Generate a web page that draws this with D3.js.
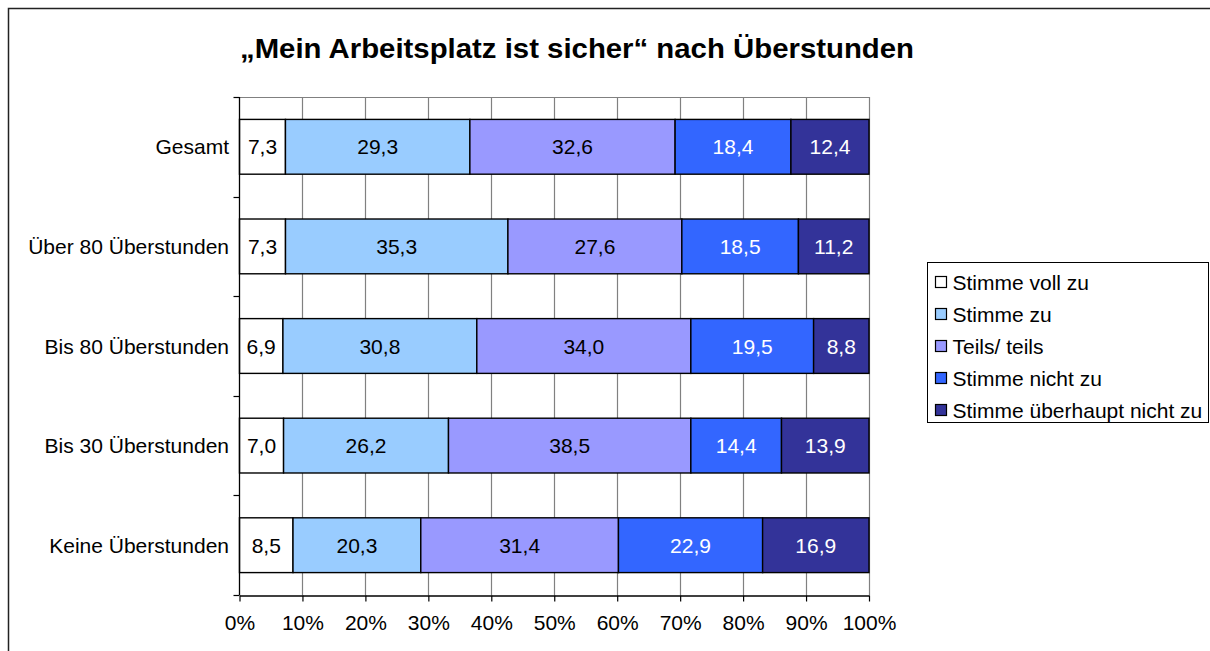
<!DOCTYPE html>
<html>
<head>
<meta charset="utf-8">
<script src="https://cdn.jsdelivr.net/npm/d3@7"></script>
<style>
  body { margin: 0; background: #fff; }
  svg { display: block; font-family: "Liberation Sans", Arial, sans-serif; }
</style>
</head>
<body>
<div id="chart"></div>
<script>
/* Data */

var categories = ["Gesamt", "Über 80 Überstunden", "Bis 80 Überstunden", "Bis 30 Überstunden", "Keine Überstunden"];
var seriesNames = ["Stimme voll zu", "Stimme zu", "Teils/ teils", "Stimme nicht zu", "Stimme überhaupt nicht zu"];
var seriesColors = ["#ffffff", "#99ccff", "#9999ff", "#3366ff", "#333399"];
var labelColors = ["#000", "#000", "#000", "#fff", "#fff"];

var stimmeVollZu = [7.3, 7.3, 6.9, 7.0, 8.5];
var stimmeZu = [29.3, 35.3, 30.8, 26.2, 20.3];
var teilsTeils = [32.6, 27.6, 34.0, 38.5, 31.4];
var stimmeNichtZu = [18.4, 18.5, 19.5, 14.4, 22.9];
var ueberhauptNicht = [12.4, 11.2, 8.8, 13.9, 16.9];

var xTicks = [0, 0.1, 0.2, 0.3, 0.4, 0.5, 0.6, 0.7, 0.8, 0.9, 1];

var title = "„Mein Arbeitsplatz ist sicher“ nach Überstunden";

/* Build rows for d3.stack */
var allSeries = [stimmeVollZu, stimmeZu, teilsTeils, stimmeNichtZu, ueberhauptNicht];
var rows = categories.map(function(c, i) {
	var r = { cat: c };
	seriesNames.forEach(function(s, j) { r[s] = allSeries[j][i]; });
	return r;
});

var width = 1210,
    height = 651;
var plot = { left: 239.5, right: 869, top: 97, bottom: 595 };
var fs = "21px";

var svg = d3.select("#chart").append("svg")
	.attr("width", width)
	.attr("height", height);

// outer frame (only left and top visible in the picture)
svg.append("rect")
	.attr("x", 8.5).attr("y", 8.5)
	.attr("width", 1400).attr("height", 1000)
	.attr("fill", "none").attr("stroke", "#222").attr("stroke-width", 1.5);

svg.append("text")
	.attr("x", 240).attr("y", 58)
	.attr("textLength", 674).attr("lengthAdjust", "spacingAndGlyphs")
	.style("font-size", "27px").style("font-weight", "bold")
	.text(title);

var x = d3.scaleLinear().domain([0, 1]).range([plot.left, plot.right]);
var y = d3.scaleBand().domain(categories)
	.range([plot.top, plot.bottom])
	.paddingInner(0.45).paddingOuter(0.225);

var stack = d3.stack().keys(seriesNames).offset(d3.stackOffsetExpand);
var layers = stack(rows);

/* grid */
svg.append("g").selectAll("line")
	.data(xTicks.slice(1))
	.enter().append("line")
	.attr("x1", function(d) { return Math.round(x(d)) + 0.5; })
	.attr("x2", function(d) { return Math.round(x(d)) + 0.5; })
	.attr("y1", plot.top).attr("y2", plot.bottom)
	.attr("stroke", "#808080").attr("stroke-width", 1.2);
svg.append("line")
	.attr("x1", plot.left).attr("x2", plot.right)
	.attr("y1", plot.top + 0.5).attr("y2", plot.top + 0.5)
	.attr("stroke", "#808080").attr("stroke-width", 1.2);

/* bars */
var groups = svg.append("g").selectAll("g")
	.data(layers)
	.enter().append("g")
	.attr("fill", function(d, i) { return seriesColors[i]; });

groups.selectAll("rect")
	.data(function(d) { return d; })
	.enter().append("rect")
	.attr("x", function(d) { return x(d[0]); })
	.attr("width", function(d) { return x(d[1]) - x(d[0]); })
	.attr("y", function(d) { return y(d.data.cat); })
	.attr("height", y.bandwidth())
	.attr("stroke", "#000").attr("stroke-width", 1.4);

/* value labels */
layers.forEach(function(layer, i) {
	svg.append("g").selectAll("text")
		.data(layer)
		.enter().append("text")
		.attr("x", function(d) { return (x(d[0]) + x(d[1])) / 2; })
		.attr("y", function(d) { return y(d.data.cat) + y.bandwidth() / 2; })
		.attr("dy", "0.36em")
		.attr("text-anchor", "middle")
		.attr("fill", labelColors[i])
		.style("font-size", fs)
		.text(function(d) { return d3.format(".1f")(d.data[layer.key]).replace(".", ","); });
});

/* axes */
var yAxis = svg.append("g");
yAxis.append("line")
	.attr("x1", plot.left).attr("x2", plot.left)
	.attr("y1", plot.top).attr("y2", plot.bottom)
	.attr("stroke", "#000").attr("stroke-width", 1.3);
var bounds = categories.map(function(c) { return y(c) - y.step() * 0.225; }).concat([plot.bottom]);
yAxis.selectAll("line.tick")
	.data(bounds)
	.enter().append("line").attr("class", "tick")
	.attr("x1", plot.left - 6).attr("x2", plot.left)
	.attr("y1", function(d) { return Math.round(d) + 0.5; })
	.attr("y2", function(d) { return Math.round(d) + 0.5; })
	.attr("stroke", "#000").attr("stroke-width", 1.2);
yAxis.selectAll("text")
	.data(categories)
	.enter().append("text")
	.attr("x", 229)
	.attr("y", function(d) { return y(d) + y.bandwidth() / 2; })
	.attr("dy", "0.36em")
	.attr("text-anchor", "end")
	.style("font-size", fs)
	.text(function(d) { return d; });

var xAxis = svg.append("g")
	.attr("transform", "translate(0," + (plot.bottom + 0.5) + ")")
	.call(d3.axisBottom(x).tickValues(xTicks).tickSize(6).tickSizeOuter(0).tickPadding(14)
		.tickFormat(d3.format(".0%")));
xAxis.select(".domain").attr("stroke-width", 1.3);
xAxis.selectAll("line").attr("stroke-width", 1.2);
xAxis.selectAll("text")
	.style("font-size", fs)
	.style("font-family", "'Liberation Sans', Arial, sans-serif")
	.attr("fill", "#000");

/* legend */
var legend = svg.append("g").attr("transform", "translate(927.5,262.5)");
legend.append("rect")
	.attr("width", 281).attr("height", 160)
	.attr("fill", "#fff").attr("stroke", "#000").attr("stroke-width", 1);
var item = legend.selectAll("g.item")
	.data(seriesNames)
	.enter().append("g").attr("class", "item")
	.attr("transform", function(d, i) { return "translate(0," + (19.5 + i * 32) + ")"; });
item.append("rect")
	.attr("x", 8).attr("y", -5.5)
	.attr("width", 11).attr("height", 11)
	.attr("fill", function(d, i) { return seriesColors[i]; })
	.attr("stroke", "#000").attr("stroke-width", 1.2);
item.append("text")
	.attr("x", 25).attr("dy", "0.36em")
	.style("font-size", fs)
	.text(function(d) { return d; });
</script>
</body>
</html>
